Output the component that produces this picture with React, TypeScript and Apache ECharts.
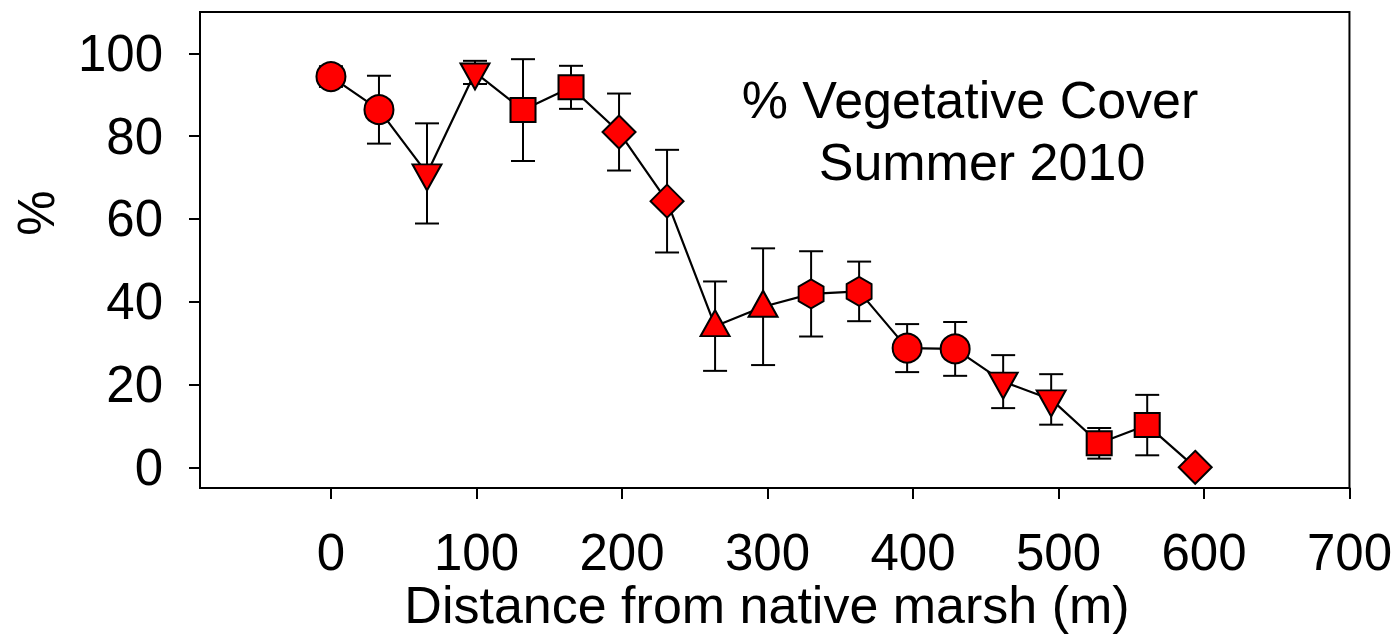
import React, { useEffect, useRef } from "react";
import * as echarts from "echarts";

const distances = [0, 33, 66, 99, 132, 165, 198, 231, 264, 297, 330, 363, 396, 429, 462, 495, 528, 561, 594];
const cover = [94.4, 86.4, 71.0, 95.4, 86.3, 91.8, 81.0, 64.3, 34.1, 38.8, 41.9, 42.5, 28.8, 28.6, 20.7, 16.4, 5.8, 10.2, 0];
const stdErr = [2.5, 8.2, 12.1, 2.8, 12.3, 5.2, 9.3, 12.4, 10.8, 14.1, 10.3, 7.2, 5.8, 6.5, 6.4, 6.1, 3.7, 7.3, 0];
const markerShapes = [
  "circle", "circle", "triDown", "triDown", "square", "square", "diamond", "diamond",
  "triUp", "triUp", "hexagon", "hexagon", "circle", "circle", "triDown", "triDown",
  "square", "square", "diamond",
];
const xTicks = [0, 100, 200, 300, 400, 500, 600, 700];
const yTicks = [0, 20, 40, 60, 80, 100];

const FONT = "'Liberation Sans', Arial, sans-serif";

const symbolDefs: Record<string, any> = {
  circle: { symbol: "circle", symbolSize: 29, symbolOffset: [0, 0] },
  square: { symbol: "rect", symbolSize: [25, 24], symbolOffset: [0, 0] },
  diamond: { symbol: "diamond", symbolSize: 33, symbolOffset: [0, 0] },
  triDown: { symbol: "path://M-1,-0.87 L1,-0.87 L0,0.87 Z", symbolSize: [29, 26], symbolOffset: [0, 4] },
  triUp: { symbol: "path://M0,-0.87 L1,0.87 L-1,0.87 Z", symbolSize: [29, 26], symbolOffset: [0, -3] },
  hexagon: {
    symbol: "path://M0,-1 L0.866,-0.5 L0.866,0.5 L0,1 L-0.866,0.5 L-0.866,-0.5 Z",
    symbolSize: [25, 29],
    symbolOffset: [0, 0],
  },
};

export default function App() {
  const ref = useRef<HTMLDivElement>(null);
  useEffect(() => {
    if (!ref.current) return;
    const chart = echarts.init(ref.current, undefined, { renderer: "svg" });
    const lineData = distances.map((d, i) => ({
      value: [d, cover[i]],
      ...symbolDefs[markerShapes[i]],
    }));
    const errData = distances.map((d, i) => [d, cover[i], stdErr[i]]);
    chart.setOption({
      animation: false,
      backgroundColor: "#fff",
      grid: {
        left: 200,
        top: 12,
        right: 45,
        bottom: 152,
        show: true,
        borderColor: "#000",
        borderWidth: 2,
        containLabel: false,
      },
      xAxis: {
        type: "value",
        min: -90,
        max: 700,
        axisLine: { show: true, onZero: false, lineStyle: { color: "#000", width: 2 } },
        axisTick: { show: true, customValues: xTicks, length: 11, inside: false, lineStyle: { color: "#000", width: 2 } },
        axisLabel: { customValues: xTicks, fontSize: 51, color: "#000", fontFamily: FONT, margin: 39 },
        splitLine: { show: false },
      },
      yAxis: {
        type: "value",
        min: -5,
        max: 110,
        axisLine: { show: true, onZero: false, lineStyle: { color: "#000", width: 2 } },
        axisTick: { show: true, customValues: yTicks, length: 11, inside: false, lineStyle: { color: "#000", width: 2 } },
        axisLabel: { customValues: yTicks, fontSize: 51, color: "#000", fontFamily: FONT, margin: 37 },
        splitLine: { show: false },
      },
      graphic: [
        {
          type: "text",
          x: 767,
          y: 605,
          style: {
            text: "Distance from native marsh (m)",
            fontSize: 52,
            fontFamily: FONT,
            fill: "#000",
            textAlign: "center",
            textVerticalAlign: "middle",
          },
        },
        {
          type: "text",
          x: 36,
          y: 213,
          rotation: Math.PI / 2,
          style: {
            text: "%",
            fontSize: 51,
            fontFamily: FONT,
            fill: "#000",
            textAlign: "center",
            textVerticalAlign: "middle",
          },
        },
        {
          type: "text",
          x: 970,
          y: 100,
          style: {
            text: "% Vegetative Cover",
            fontSize: 52,
            fontFamily: FONT,
            fill: "#000",
            textAlign: "center",
            textVerticalAlign: "middle",
          },
        },
        {
          type: "text",
          x: 982,
          y: 162,
          style: {
            text: "Summer 2010",
            fontSize: 52,
            fontFamily: FONT,
            fill: "#000",
            textAlign: "center",
            textVerticalAlign: "middle",
          },
        },
      ],
      series: [
        {
          type: "custom",
          z: 1,
          data: errData,
          renderItem: (params: any, api: any) => {
            const x = api.value(0);
            const y = api.value(1);
            const e = api.value(2);
            if (!e) return { type: "group", children: [] };
            const top = api.coord([x, y + e]);
            const bot = api.coord([x, y - e]);
            const hw = 12;
            const style = { stroke: "#000", lineWidth: 2 };
            return {
              type: "group",
              children: [
                { type: "line", shape: { x1: top[0], y1: top[1], x2: bot[0], y2: bot[1] }, style },
                { type: "line", shape: { x1: top[0] - hw, y1: top[1], x2: top[0] + hw, y2: top[1] }, style },
                { type: "line", shape: { x1: bot[0] - hw, y1: bot[1], x2: bot[0] + hw, y2: bot[1] }, style },
              ],
            };
          },
        },
        {
          type: "line",
          z: 2,
          data: lineData,
          lineStyle: { color: "#000", width: 2.2 },
          itemStyle: { color: "#ff0000", borderColor: "#000", borderWidth: 2 },
          symbolKeepAspect: false,
        },
      ],
    });
    return () => chart.dispose();
  }, []);
  return (
    <div
      ref={ref}
      style={{ position: "fixed", left: 0, top: 0, width: 1395, height: 640, background: "#fff" }}
    />
  );
}
